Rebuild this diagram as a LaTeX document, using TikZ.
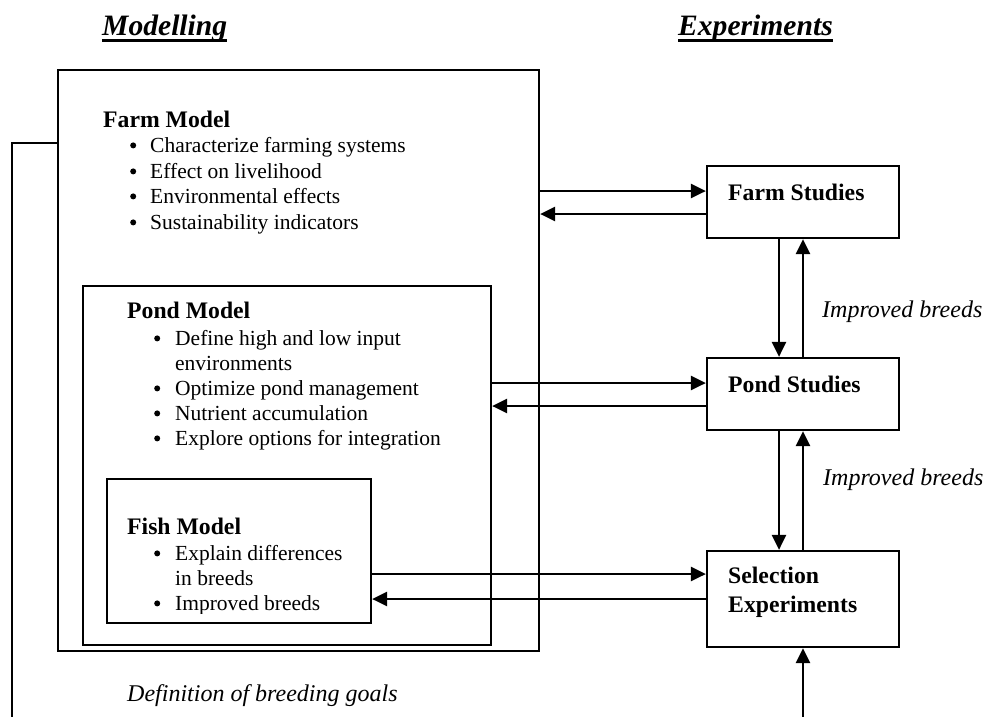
\documentclass[tikz,border=0pt]{standalone}
\usepackage{fontspec}
\setmainfont{Liberation Serif}
\usetikzlibrary{arrows.meta}
\newcommand\blt[1]{\makebox[#1][l]{\tikz[baseline={(0pt,-6.6pt)}]\fill (0pt,0pt) circle[radius=3pt];}}
\begin{document}
\begin{tikzpicture}[x=1pt,y=-1pt,
  box/.style={draw, line width=2.2pt, rectangle, inner sep=0pt},
  txt/.style={anchor=base west, inner sep=0pt, font=\fontsize{21.5}{25}\selectfont},
  ttl/.style={anchor=base west, inner sep=0pt, font=\fontsize{23.7}{28}\selectfont\bfseries},
  lbl/.style={anchor=base west, inner sep=0pt, font=\fontsize{24}{28}\selectfont\itshape},
  hdr/.style={anchor=base west, inner sep=0pt, font=\fontsize{29.6}{34}\selectfont\bfseries\itshape},
  conn/.style={line width=2.6pt},
  arr/.style={conn, -{Triangle[length=15pt,width=14pt]}},
]
\useasboundingbox (0,0) rectangle (986,716);

% headers
\node[hdr] (hm) at (102,35) {Modelling};
\node[hdr] (he) at (678,35) {Experiments};
\draw[line width=3pt] ([yshift=-5.5pt]hm.base west) -- ([yshift=-5.5pt]hm.base east);
\draw[line width=3pt] ([yshift=-5.5pt]he.base west) -- ([yshift=-5.5pt]he.base east);

% model boxes
\node[box, minimum width=481pt, minimum height=581pt] (farm) at (298.5,360.5) {};
\node[box, minimum width=408pt, minimum height=359pt] (pond) at (287,465.5) {};
\node[box, minimum width=264pt, minimum height=144pt] (fish) at (239,551) {};

% experiment boxes
\node[box, minimum width=192pt, minimum height=72pt] (fs) at (803,202) {};
\node[box, minimum width=192pt, minimum height=72pt] (ps) at (803,394) {};
\node[box, minimum width=192pt, minimum height=96pt] (se) at (803,599) {};

% farm model text
\node[ttl] (ft) at (103,127) {Farm Model};
\node[txt] (f1) at (130,152) {\blt{20pt}Characterize farming systems};
\node[txt] (f2) at (130,178) {\blt{20pt}Effect on livelihood};
\node[txt] (f3) at (130,203) {\blt{20pt}Environmental effects};
\node[txt] (f4) at (130,229) {\blt{20pt}Sustainability indicators};

% pond model text
\node[ttl] (pt) at (127,318) {Pond Model};
\node[txt] (p1) at (154,345) {\blt{21pt}Define high and low input};
\node[txt] (p1b) at (175,370) {environments};
\node[txt] (p2) at (154,395) {\blt{21pt}Optimize pond management};
\node[txt] (p3) at (154,420) {\blt{21pt}Nutrient accumulation};
\node[txt] (p4) at (154,445) {\blt{21pt}Explore options for integration};

% fish model text (clipped like the original text box)
\begin{scope}
\clip (107,479) rectangle (371,613);
\node[ttl] (sht) at (127,534) {Fish Model};
\node[txt] (s1) at (154,560) {\blt{21pt}Explain differences};
\node[txt] (s1b) at (175,585) {in breeds};
\node[txt] (s2) at (154,610) {\blt{21pt}Improved breeds};
\end{scope}

% experiment texts
\node[ttl] (fst) at (728,200) {Farm Studies};
\node[ttl] (pst) at (728,392) {Pond Studies};
\node[ttl] (set1) at (728,583) {Selection};
\node[ttl] (set2) at (728,612) {Experiments};

% labels
\node[lbl] (ib1) at (822,317) {Improved breeds};
\node[lbl] (ib2) at (823,485) {Improved breeds};
\node[lbl] (dbg) at (127,701) {Definition of breeding goals};

% helper coordinates
\coordinate (ya) at (0,191);
\coordinate (yb) at (0,214);
\coordinate (yc) at (0,383);
\coordinate (yd) at (0,406);
\coordinate (ye) at (0,574);
\coordinate (yf) at (0,599);
\coordinate (dx) at (779,0);
\coordinate (fb) at (0,143);
\coordinate (lb) at (12,717);
\coordinate (sb) at (803,717);

% horizontal connectors
\draw[arr] (farm.east |- ya) -- (fs.west |- ya);
\draw[arr] (fs.west |- yb) -- (farm.east |- yb);
\draw[arr] (pond.east |- yc) -- (ps.west |- yc);
\draw[arr] (ps.west |- yd) -- (pond.east |- yd);
\draw[arr] (fish.east |- ye) -- (se.west |- ye);
\draw[arr] (se.west |- yf) -- (fish.east |- yf);

% vertical connectors
\draw[arr] (fs.south -| dx) -- (ps.north -| dx);
\draw[arr] (ps.north) -- (fs.south);
\draw[arr] (ps.south -| dx) -- (se.north -| dx);
\draw[arr] (se.north) -- (ps.south);
\draw[arr] (sb) -- (se.south);

% feedback line
\draw[conn] (farm.west |- fb) -| (lb);
\end{tikzpicture}
\end{document}
